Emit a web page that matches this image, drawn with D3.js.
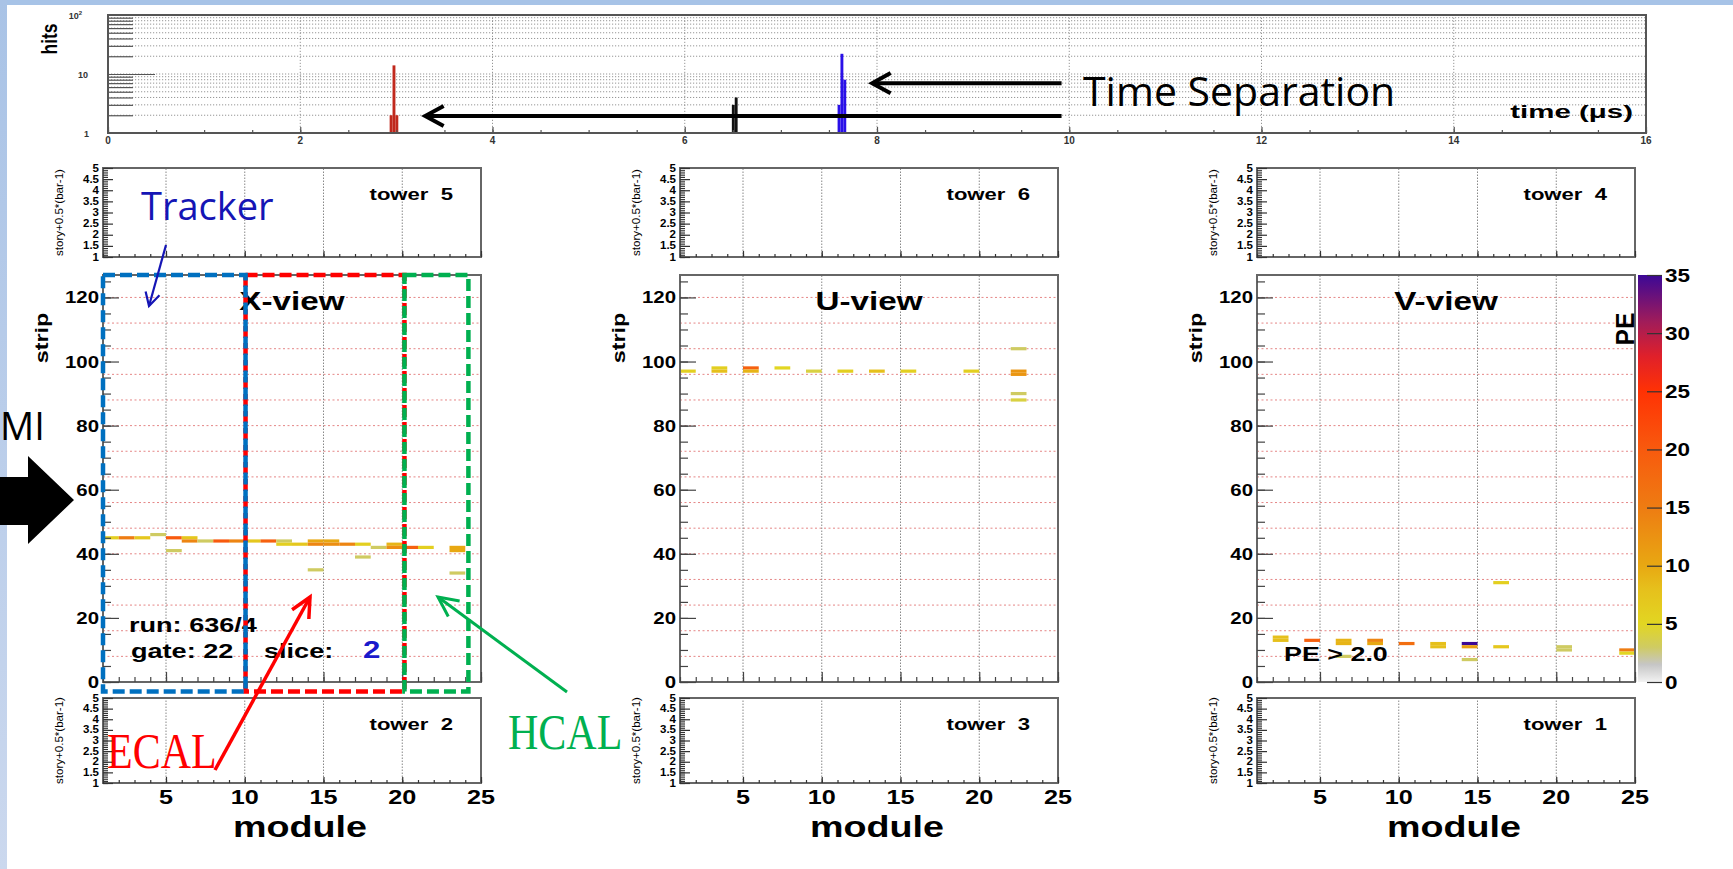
<!DOCTYPE html>
<html><head><meta charset="utf-8">
<script src="https://cdn.jsdelivr.net/npm/d3@7"></script>
<style>body{margin:0;background:#fff;overflow:hidden}svg{display:block}</style>
</head><body>
<svg id="c" width="1733" height="869"></svg>
<script>
// ---------------- DATA ----------------
const timeTicks = [0,2,4,6,8,10,12,14,16];
const timeBinWidth = 0.03;
const timeRed   = [[2.93,2],[2.96,14],[2.99,2]];
const timeBlack = [[6.49,3],[6.52,4]];
const timeBlue  = [[7.59,3],[7.62,22],[7.65,8]];
const moduleTicks = [5,10,15,20,25];
const stripTicks = [0,20,40,60,80,100,120];
const storyTicks = [1,1.5,2,2.5,3,3.5,4,4.5,5];
const storyLabels = ["1","1.5","2","2.5","3","3.5","4","4.5","5"];
const peTicks = [0,5,10,15,20,25,30,35];
const views = ["X-view","U-view","V-view"];
const towersTop = ["tower  5","tower  6","tower  4"];
const towersBottom = ["tower  2","tower  3","tower  1"];
// hits: [module, strip, PE]
const hitsX = [[1,45,6],[2,45,15],[3,45,7],[4,46,3],[5,45,20],[5,41,3],[6,45,7],[6,44,14],[7,44,3],[8,44,20],[9,44,14],[10,44,7],[11,44,19],[12,44,3],[12,43,6],[13,43,7],[14,44,10],[14,43,14],[14,35,3],[15,44,10],[15,43,13],[16,43,14],[17,43,6],[17,39,3],[18,42,3],[19,43,9],[19,42,13],[20,42,19],[21,42,6],[23,42,10],[23,41,10],[23,34,3]];
const hitsU = [[1,97,6],[3,98,6],[3,97,8],[5,98,19],[5,97,9],[7,98,5],[9,97,4],[11,97,6],[13,97,8],[15,97,6],[19,97,6],[22,104,3],[22,97,12],[22,96,12],[22,90,3],[22,88,4]];
const hitsV = [[2,14,8],[2,13,8],[4,13,19],[6,13,9],[6,12,9],[6,8,3],[8,13,14],[8,12,10],[10,12,17],[12,12,8],[12,11,8],[14,12,35],[14,11,11],[14,7,3],[16,11,7],[16,31,6],[20,11,3],[20,10,3],[24,10,15],[24,9,5]];
const peStopValues = [0,1.5,3,5,8,10,15,20,25,28,31,35];
const peStopColors = ["#f2f2f2","#c6c6c6","#cfcb62","#e2d622","#e6c01c","#e8a812","#ee7c12","#f85a0e","#ff3204","#e0202a","#a01c5a","#3c0896"];

// ---------------- SETUP ----------------
const W=1733,H=869;
const svg=d3.select("#c");
const defs=svg.append("defs");
const FONT="'Liberation Sans', Arial, Helvetica, sans-serif";
const pe=d3.scaleLinear().domain(peStopValues).range(peStopColors).clamp(true);

function rt(p,x,y,str,o={}){
  return p.append("text")
    .attr("transform",`translate(${x},${y})${o.rot?` rotate(${o.rot})`:""} scale(${o.sx||1},${o.sy||1})`)
    .attr("font-family",o.family||FONT).attr("font-weight",o.weight||"bold")
    .attr("font-size",o.size||12).attr("text-anchor",o.anchor||"start")
    .attr("fill",o.fill||"#000").style("white-space","pre").text(str);
}
function styleAxis(a,col){a.select(".domain").remove();a.selectAll("line").attr("stroke",col||"#333").attr("stroke-width",1.2);}

// background strips
const lg=defs.append("linearGradient").attr("id","lgrad").attr("x1",0).attr("y1",0).attr("x2",0).attr("y2",1);
lg.append("stop").attr("offset",0).attr("stop-color","#a9c3e6");
lg.append("stop").attr("offset",1).attr("stop-color","#cbd8ee");
svg.append("rect").attr("x",0).attr("y",0).attr("width",W).attr("height",5).attr("fill","#a7c3e7");
svg.append("rect").attr("x",0).attr("y",0).attr("width",7).attr("height",H).attr("fill","url(#lgrad)");

// ---------------- TOP TIME PANEL ----------------
const tx=d3.scaleLinear([0,16],[108,1646]);
const ty=d3.scaleLog([1,100],[133,15]);
const tp=svg.append("g");
const logTicks=ty.ticks().filter(v=>v>1&&v<100);
tp.selectAll("line.hg").data(logTicks).join("line")
  .attr("x1",tx(0)).attr("x2",tx(16)).attr("y1",d=>ty(d)).attr("y2",d=>ty(d))
  .attr("stroke","#8a8a8a").attr("stroke-width",0.9).attr("stroke-dasharray","1.2,1.8");
tp.selectAll("line.vg").data(timeTicks.slice(1,-1)).join("line")
  .attr("x1",d=>tx(d)).attr("x2",d=>tx(d)).attr("y1",ty(1)).attr("y2",ty(100))
  .attr("stroke","#8a8a8a").attr("stroke-width",0.9).attr("stroke-dasharray","1.2,1.8");
[[timeRed,"#c0281c"],[timeBlack,"#111"],[timeBlue,"#2a10e8"]].forEach(([s,c])=>{
  tp.selectAll(null).data(s).join("rect")
    .attr("x",d=>tx(d[0])).attr("width",d=>tx(d[0]+timeBinWidth)-tx(d[0]))
    .attr("y",d=>ty(d[1])).attr("height",d=>ty(1)-ty(d[1])).attr("fill",c);
});
tp.append("rect").attr("x",tx(0)).attr("y",ty(100)).attr("width",tx(16)-tx(0)).attr("height",ty(1)-ty(100))
  .attr("fill","none").attr("stroke","#555").attr("stroke-width",2);
tp.append("g").attr("transform",`translate(${tx(0)},0)`)
  .call(d3.axisLeft(ty).tickValues(logTicks.filter(v=>v!==10)).tickSize(-25).tickFormat(""))
  .call(a=>styleAxis(a,"#555"));
tp.append("g").attr("transform",`translate(${tx(0)},0)`)
  .call(d3.axisLeft(ty).tickValues([10]).tickSize(-47).tickFormat(""))
  .call(a=>styleAxis(a,"#555"));
tp.append("g").attr("transform",`translate(0,${ty(1)})`)
  .call(d3.axisBottom(tx).tickValues(d3.range(0,16.01,0.5)).tickSize(-3).tickFormat(""))
  .call(a=>styleAxis(a,"#555"));
tp.append("g").attr("transform",`translate(0,${ty(1)})`)
  .call(d3.axisBottom(tx).tickValues(timeTicks).tickSize(-6).tickFormat(""))
  .call(a=>styleAxis(a,"#555"));
timeTicks.forEach(v=>rt(tp,tx(v),ty(1)+11,String(v),{size:10,anchor:"middle",fill:"#333"}));
rt(tp,89,ty(1)+4,"1",{size:9,anchor:"end",fill:"#333"});
rt(tp,88,ty(10)+3.5,"10",{size:9,anchor:"end",fill:"#333"});
const t2=rt(tp,82,ty(100)+4,"10",{size:9,anchor:"end",fill:"#333"});
t2.append("tspan").attr("font-size",6).attr("dy",-4).text("2");
rt(tp,57,39,"hits",{size:19,rot:-90,anchor:"middle",sx:0.92,sy:1.2});
rt(tp,1633,118,"time (\u03bcs)",{size:19,anchor:"end",sx:1.55});

// ---------------- VIEW PANELS ----------------
const colX=[103,680,1257], PW=378;
const hitsAll=[hitsX,hitsU,hitsV];
colX.forEach((x0,i)=>{
  const x=d3.scaleLinear([1,25],[x0,x0+PW]);
  const y=d3.scaleLinear([0,127],[682,275]);
  const g=svg.append("g");
  g.selectAll("line.pg").data(d3.range(8,127,8)).join("line")
    .attr("x1",x(1)).attr("x2",x(25)).attr("y1",d=>y(d)).attr("y2",d=>y(d))
    .attr("stroke","#e58686").attr("stroke-width",1).attr("stroke-dasharray","2,2.5");
  g.selectAll("line.vg").data(moduleTicks.slice(0,-1)).join("line")
    .attr("x1",d=>x(d)).attr("x2",d=>x(d)).attr("y1",y(0)).attr("y2",y(127))
    .attr("stroke","#888").attr("stroke-width",1).attr("stroke-dasharray","1.5,1.5");
  g.selectAll("rect.hit").data(hitsAll[i]).join("rect")
    .attr("x",d=>x(d[0])).attr("width",d=>x(d[0]+1)-x(d[0]))
    .attr("y",d=>y(d[1]+0.5)).attr("height",d=>y(d[1]-0.5)-y(d[1]+0.5))
    .attr("fill",d=>pe(d[2]));
  g.append("rect").attr("x",x(1)).attr("y",y(127)).attr("width",PW).attr("height",y(0)-y(127))
    .attr("fill","none").attr("stroke","#666").attr("stroke-width",2);
  g.append("g").attr("transform",`translate(${x(1)},0)`)
    .call(d3.axisLeft(y).tickValues(d3.range(0,128,5)).tickSize(-8).tickFormat("")).call(a=>styleAxis(a,"#444"));
  g.append("g").attr("transform",`translate(${x(1)},0)`)
    .call(d3.axisLeft(y).tickValues(stripTicks).tickSize(-16).tickFormat("")).call(a=>styleAxis(a,"#444"));
  g.append("g").attr("transform",`translate(0,${y(0)})`)
    .call(d3.axisBottom(x).tickValues(d3.range(1,26,1)).tickSize(-5).tickFormat("")).call(a=>styleAxis(a,"#444"));
  g.append("g").attr("transform",`translate(0,${y(0)})`)
    .call(d3.axisBottom(x).tickValues(moduleTicks).tickSize(-10).tickFormat("")).call(a=>styleAxis(a,"#444"));
  stripTicks.forEach(v=>rt(g,x0-4,y(v)+6,String(v),{size:17,anchor:"end",sx:1.2}));
  rt(g,x0-55,338,"strip",{size:18,rot:-90,anchor:"middle",sx:1.3});
  rt(g,x0+PW/2,310,views[i],{size:25,anchor:"middle",sx:1.33});

  // tower panels
  [[towersTop[i],[257,168],false],[towersBottom[i],[783,698],true]].forEach(([lab,rng,showX])=>{
    const yT=d3.scaleLinear([1,5],rng);
    const tg=svg.append("g");
    tg.selectAll("line.vg").data(moduleTicks.slice(0,-1)).join("line")
      .attr("x1",d=>x(d)).attr("x2",d=>x(d)).attr("y1",yT(1)).attr("y2",yT(5))
      .attr("stroke","#888").attr("stroke-width",1).attr("stroke-dasharray","1.5,1.5");
    tg.append("rect").attr("x",x(1)).attr("y",yT(5)).attr("width",PW).attr("height",yT(1)-yT(5))
      .attr("fill","none").attr("stroke","#666").attr("stroke-width",2);
    tg.append("g").attr("transform",`translate(${x(1)},0)`)
      .call(d3.axisLeft(yT).tickValues(d3.range(1,5.001,0.1)).tickSize(-5).tickFormat("")).call(a=>styleAxis(a,"#333"));
    tg.append("g").attr("transform",`translate(${x(1)},0)`)
      .call(d3.axisLeft(yT).tickValues(storyTicks).tickSize(-10).tickFormat("")).call(a=>styleAxis(a,"#333"));
    tg.append("g").attr("transform",`translate(0,${yT(1)})`)
      .call(d3.axisBottom(x).tickValues(d3.range(1,26,1)).tickSize(-3).tickFormat("")).call(a=>styleAxis(a,"#333"));
    tg.append("g").attr("transform",`translate(0,${yT(1)})`)
      .call(d3.axisBottom(x).tickValues(moduleTicks).tickSize(-6).tickFormat("")).call(a=>styleAxis(a,"#333"));
    storyTicks.forEach((v,k)=>rt(tg,x0-4,yT(v)+3.5,storyLabels[k],{size:10,anchor:"end",sx:1.15}));
    rt(tg,x0-40,(rng[0]+rng[1])/2,"story+0.5*(bar-1)",{size:10.5,rot:-90,anchor:"middle",weight:"normal",sx:1.1});
    rt(tg,x0+PW-28,rng[1]+32,lab,{size:17,anchor:"end",sx:1.3});
    if(showX){
      moduleTicks.forEach(v=>rt(tg,x(v),yT(1)+21,String(v),{size:21,anchor:"middle",sx:1.2}));
      rt(tg,x0+PW/2+8,837,"module",{size:29,anchor:"middle",sx:1.3});
    }
  });
});

// run info & cut label
const xg=svg.append("g");
rt(xg,129,632,"run: 636/4",{size:21,sx:1.29});
rt(xg,131,658,"gate: 22",{size:21,sx:1.29});
rt(xg,264,658,"slice:",{size:21,sx:1.29});
rt(xg,363,658,"2",{size:24,sx:1.3,fill:"#1a1acc"});
rt(xg,1284,661,"PE > 2.0",{size:21,sx:1.28});

// colour bar
const cy=d3.scaleLinear([0,35],[682,275]);
const grad=defs.append("linearGradient").attr("id","pal").attr("x1",0).attr("y1",1).attr("x2",0).attr("y2",0);
peStopValues.forEach((v,k)=>grad.append("stop").attr("offset",v/35).attr("stop-color",peStopColors[k]));
svg.append("rect").attr("x",1638).attr("y",cy(35)).attr("width",24).attr("height",cy(0)-cy(35)).attr("fill","url(#pal)");
svg.append("g").attr("transform","translate(1662,0)")
  .call(d3.axisLeft(cy).tickValues(peTicks).tickSize(15).tickFormat("")).call(a=>styleAxis(a,"#333"));
peTicks.forEach(v=>rt(svg,1665,cy(v)+6.5,String(v),{size:18,sx:1.25}));
rt(svg,1634,329,"PE",{size:26,rot:-90,anchor:"middle",sx:0.95});

// ---------------- ANNOTATIONS ----------------
const ann=svg.append("g");
function chevron(x1,y1,x2,y2,len,ang,col,w){
  const a=Math.atan2(y2-y1,x2-x1);
  const p1=[x2-len*Math.cos(a-ang),y2-len*Math.sin(a-ang)];
  const p2=[x2-len*Math.cos(a+ang),y2-len*Math.sin(a+ang)];
  ann.append("line").attr("x1",x1).attr("y1",y1).attr("x2",x2).attr("y2",y2).attr("stroke",col).attr("stroke-width",w);
  ann.append("path").attr("d",`M${p1[0]},${p1[1]}L${x2},${y2}L${p2[0]},${p2[1]}`)
    .attr("fill","none").attr("stroke",col).attr("stroke-width",w).attr("stroke-linejoin","miter");
}
// time separation arrows (in time/hits units)
chevron(tx(9.92),ty(7),tx(7.95),ty(7),21,0.5,"#000",4);
chevron(tx(9.92),ty(1.94),tx(3.3),ty(1.94),21,0.5,"#000",4);
rt(ann,1083,106,"Time Separation",{size:41,family:"'Open Sans', sans-serif",weight:"normal"});

// detector region boxes in X-view (module/strip units)
const bx=d3.scaleLinear([1,25],[colX[0],colX[0]+PW]);
const by=d3.scaleLinear([0,127],[682,275]);
function dbox(m0,m1,col){
  ann.append("rect").attr("x",bx(m0)).attr("y",by(127)).attr("width",bx(m1)-bx(m0)).attr("height",by(-3)-by(127))
    .attr("fill","none").attr("stroke",col).attr("stroke-width",4.5).attr("stroke-dasharray","12,5");
}
dbox(10.05,20.14,"#ff0000");
dbox(20.14,24.2,"#00b050");
dbox(1,10.05,"#0070c0");

rt(ann,141,220,"Tracker",{size:38,family:"'Open Sans', sans-serif",weight:"normal",fill:"#1515b5"});
chevron(166,245,149,306,15,0.5,"#1515b5",2.2);
rt(ann,107,768,"ECAL",{size:42,family:"'Liberation Serif', 'Times New Roman', serif",weight:"normal",fill:"#ff0000",sy:1.2});
chevron(215,770,310,597,22,0.45,"#ff0000",3.5);
rt(ann,508,749,"HCAL",{size:42,family:"'Liberation Serif', 'Times New Roman', serif",weight:"normal",fill:"#00b050",sy:1.2});
chevron(567,692,438,597,22,0.45,"#00b050",3);

// beam arrow and partial label
ann.append("path").attr("d","M0,477L28,477L28,456L74,500L28,544L28,525L0,525Z").attr("fill","#000");
rt(ann,0,440,"MI",{size:38,family:"'Open Sans', sans-serif",weight:"normal"});
</script>
</body></html>
